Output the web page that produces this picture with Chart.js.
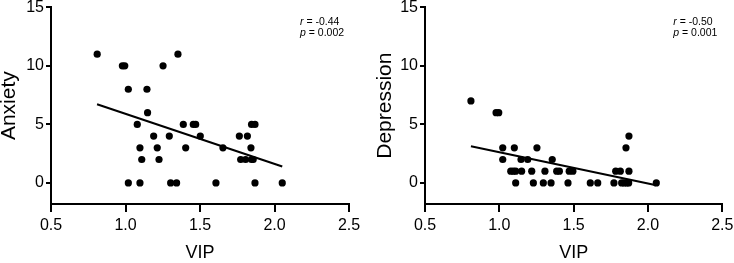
<!DOCTYPE html>
<html>
<head>
<meta charset="utf-8">
<script src="https://cdn.jsdelivr.net/npm/chart.js@4/dist/chart.umd.min.js"></script>
<style>
  body { margin: 0; background: #fff; }
  #wrap { position: relative; width: 734px; height: 263px; }
  canvas { position: absolute; top: 0; }
</style>
</head>
<body>
<div id="wrap">
  <canvas id="anxietyChart" width="364" height="263" style="left:0"></canvas>
  <canvas id="depressionChart" width="370" height="263" style="left:364px"></canvas>
</div>
<script>
// values
const xTicks = [0.5, 1.0, 1.5, 2.0, 2.5];
const yTicks = [0, 5, 10, 15];

const vipAnxiety = [0.81, 0.979, 0.995, 1.019, 1.144, 1.252, 1.352, 1.148, 1.079, 1.388, 1.455, 1.471,
  1.846, 1.869, 1.189, 1.294, 1.502, 1.764, 1.818, 1.097, 1.213, 1.404, 1.654, 1.842,
  1.109, 1.225, 1.773, 1.806, 1.846, 1.857, 1.019, 1.097, 1.303, 1.343, 1.607, 1.869, 2.052];
const anxiety = [11, 10, 10, 8, 8, 10, 11, 6, 5, 5, 5, 5,
  5, 5, 4, 4, 4, 4, 4, 3, 3, 3, 3, 3,
  2, 2, 2, 2, 2, 2, 0, 0, 0, 0, 0, 0, 0];
const anxietyFitX = [0.809, 2.052];
const anxietyFitY = [6.72, 1.4];
const anxietyStats = ["-0.44", "0.002"];

const vipDepression = [0.809, 0.978, 0.996, 1.872, 1.023, 1.101, 1.253, 1.852, 1.023, 1.146, 1.191, 1.356,
  1.077, 1.094, 1.110, 1.150, 1.218, 1.307, 1.386, 1.404, 1.47, 1.495, 1.783, 1.814, 1.872,
  1.110, 1.229, 1.296, 1.348, 1.462, 1.612, 1.662, 1.771, 1.823, 1.840, 1.857, 1.870, 2.056];
const depression = [7, 6, 6, 4, 3, 3, 3, 3, 2, 2, 2, 2,
  1, 1, 1, 1, 1, 1, 1, 1, 1, 1, 1, 1, 1,
  0, 0, 0, 0, 0, 0, 0, 0, 0, 0, 0, 0, 0];
const depressionFitX = [0.809, 2.056];
const depressionFitY = [3.13, -0.2];
const depressionStats = ["-0.50", "0.001"];

Chart.defaults.font.family = "'Liberation Sans', Arial, sans-serif";
Chart.defaults.color = "#000";

const statsPlugin = {
  id: "stats",
  afterDatasetsDraw(chart, args, opts) {
    const ctx = chart.ctx;
    const x = chart.chartArea.right - 49;
    ctx.save();
    ctx.fillStyle = "#000";
    ctx.textBaseline = "alphabetic";
    [["r", opts.values[0], 25], ["p", opts.values[1], 36]].forEach(function (row) {
      ctx.font = "italic 10.5px 'Liberation Sans', Arial, sans-serif";
      ctx.fillText(row[0], x, row[2]);
      const w = ctx.measureText(row[0]).width;
      ctx.font = "10.5px 'Liberation Sans', Arial, sans-serif";
      ctx.fillText(" = " + row[1], x + w, row[2]);
    });
    ctx.restore();
  }
};

function makeChart(id, xs, ys, fitX, fitY, label, stats, axisWidth, titlePad, rightPad) {
  return new Chart(document.getElementById(id), {
    type: "scatter",
    data: {
      datasets: [{
        data: xs.map((x, i) => ({ x: x, y: ys[i] })),
        backgroundColor: "#000",
        borderWidth: 0,
        pointRadius: 3.6,
      }, {
        data: fitX.map((x, i) => ({ x: x, y: fitY[i] })),
        showLine: true,
        borderColor: "#000",
        borderWidth: 2,
        pointRadius: 0,
      }],
    },
    options: {
      responsive: false,
      animation: false,
      layout: { padding: { top: 7.3, right: rightPad, left: 0, bottom: 0 } },
      plugins: {
        legend: { display: false },
        tooltip: { enabled: false },
        stats: { values: stats },
      },
      scales: {
        x: {
          type: "linear",
          min: 0.5,
          max: 2.5,
          afterBuildTicks: s => { s.ticks = xTicks.map(v => ({ value: v })); },
          afterFit: s => { s.height = 59; s.paddingLeft = 0; s.paddingRight = 0; },
          ticks: { callback: v => v.toFixed(1), font: { size: 16, lineHeight: 0.9 }, padding: 6 },
          grid: { drawOnChartArea: false, tickLength: 8, color: "#000", lineWidth: 2 },
          border: { color: "#000", width: 2 },
          title: { display: true, text: "VIP", font: { size: 18, lineHeight: 1 }, padding: { top: 0, bottom: 1 } },
        },
        y: {
          min: -1.8,
          max: 15,
          afterBuildTicks: s => { s.ticks = yTicks.map(v => ({ value: v })); },
          afterFit: s => { s.width = axisWidth; s.paddingTop = 0; s.paddingBottom = 0; },
          ticks: { font: { size: 16, lineHeight: 0.9 }, padding: 2 },
          grid: { drawOnChartArea: false, tickLength: 5, color: "#000", lineWidth: 2 },
          border: { color: "#000", width: 2 },
          title: { display: true, text: label, font: { size: 21, lineHeight: 1 }, padding: { top: titlePad, bottom: 0 } },
        },
      },
    },
    plugins: [statsPlugin],
  });
}

makeChart("anxietyChart", vipAnxiety, anxiety, anxietyFitX, anxietyFitY, "Anxiety", anxietyStats, 51, -1, 15);
makeChart("depressionChart", vipDepression, depression, depressionFitX, depressionFitY, "Depression", depressionStats, 61, 11, 11.7);
</script>
</body>
</html>
